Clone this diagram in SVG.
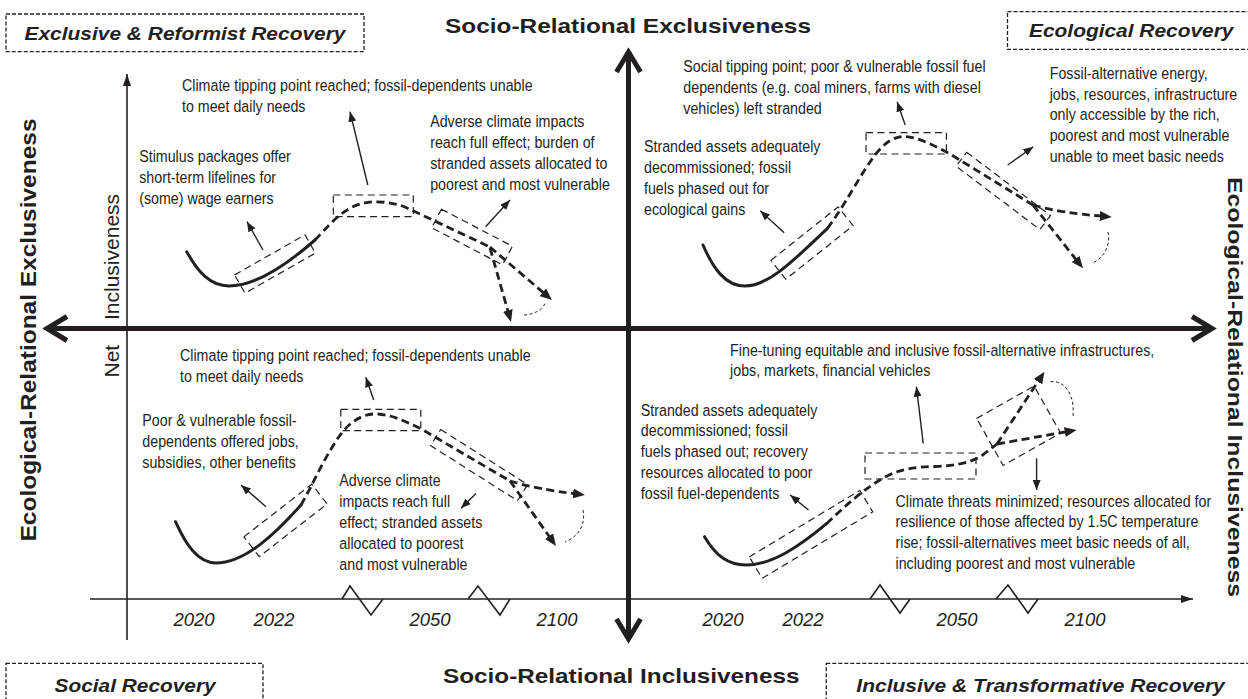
<svg xmlns="http://www.w3.org/2000/svg" width="1248" height="699" viewBox="0 0 1248 699">
<defs>
<style>
.ann{font-family:"Liberation Sans",Arial,sans-serif;font-size:17px;fill:#231f20}
.yr{font-family:"Liberation Sans",Arial,sans-serif;font-size:18.5px;font-style:italic;fill:#231f20;text-anchor:middle}
.ct{font-family:"Liberation Sans",Arial,sans-serif;font-size:18px;font-style:italic;font-weight:bold;fill:#231f20}
.mt{font-family:"Liberation Sans",Arial,sans-serif;font-size:21px;font-weight:bold;fill:#231f20}
.vt{font-family:"Liberation Sans",Arial,sans-serif;font-size:22px;font-weight:bold;fill:#231f20;text-anchor:middle}
.ni{font-family:"Liberation Sans",Arial,sans-serif;font-size:21px;fill:#231f20}
.cb{fill:none;stroke:#231f20;stroke-width:1.3;stroke-dasharray:4 2}
.ax{fill:none;stroke:#231f20;stroke-width:5}
.tl{fill:none;stroke:#231f20;stroke-width:1.6}
.sol{fill:none;stroke:#231f20;stroke-width:3;stroke-linecap:round}
.dsh{fill:none;stroke:#231f20;stroke-width:2.8;stroke-dasharray:8 4.5}
.br{marker-end:url(#ahd)}
.rb{fill:none;stroke:#231f20;stroke-width:1.2;stroke-dasharray:7 4.5}
.arc{fill:none;stroke:#231f20;stroke-width:1;stroke-dasharray:3 2.5}
.ptr{fill:none;stroke:#231f20;stroke-width:1.4;marker-end:url(#ah)}
</style>
<marker id="ah" viewBox="0 0 10 8" refX="10" refY="4" markerWidth="10" markerHeight="8" markerUnits="userSpaceOnUse" orient="auto"><path d="M0,0L10,4L0,8z" fill="#231f20"/></marker>
<marker id="ahd" viewBox="0 0 12 10" refX="6" refY="5" markerWidth="12" markerHeight="10" markerUnits="userSpaceOnUse" orient="auto"><path d="M0,0L12,5L0,10z" fill="#231f20"/></marker>
<marker id="aht" viewBox="0 0 12 8" refX="12" refY="4" markerWidth="12" markerHeight="8" markerUnits="userSpaceOnUse" orient="auto"><path d="M0,0L12,4L0,8z" fill="#231f20"/></marker>
</defs>
<rect width="1248" height="699" fill="#ffffff"/>

<!-- corner titles -->
<g id="title-exclusive-reformist">
<rect class="cb" x="6" y="14" width="358" height="37.7"/>
<text class="ct" x="24.5" y="39.5" textLength="321" lengthAdjust="spacingAndGlyphs">Exclusive &amp; Reformist Recovery</text>
</g>
<g id="title-ecological">
<rect class="cb" x="1007.5" y="11.7" width="250" height="37.6"/>
<text class="ct" x="1029" y="36.5" textLength="204.5" lengthAdjust="spacingAndGlyphs">Ecological Recovery</text>
</g>
<g id="title-social">
<rect class="cb" x="6" y="663.3" width="257" height="50"/>
<text class="ct" x="54.6" y="691.5" textLength="161" lengthAdjust="spacingAndGlyphs">Social Recovery</text>
</g>
<g id="title-inclusive-transformative">
<rect class="cb" x="826.3" y="663.3" width="440" height="50"/>
<text class="ct" x="856.3" y="691.5" textLength="368.5" lengthAdjust="spacingAndGlyphs">Inclusive &amp; Transformative Recovery</text>
</g>

<!-- axis titles -->
<g id="axis-titles">
<text class="mt" x="445" y="33" textLength="366" lengthAdjust="spacingAndGlyphs">Socio-Relational Exclusiveness</text>
<text class="mt" x="443" y="683" textLength="356.5" lengthAdjust="spacingAndGlyphs">Socio-Relational Inclusiveness</text>
<text class="vt" transform="translate(36,330) rotate(-90)" x="0" y="0" textLength="423" lengthAdjust="spacingAndGlyphs">Ecological-Relational Exclusiveness</text>
<text class="vt" transform="translate(1227.5,387) rotate(90)" x="0" y="0" style="font-size:21px" textLength="420" lengthAdjust="spacingAndGlyphs">Ecological-Relational Inclusiveness</text>
<text class="ni" transform="translate(119,320) rotate(-90)">Inclusiveness</text>
<text class="ni" transform="translate(119,377.5) rotate(-90)">Net</text>
</g>

<!-- main axes -->
<g id="main-axes">
<line class="ax" x1="628.5" y1="54" x2="628.5" y2="637"/>
<polyline class="ax" points="616.5,72 628.5,52 640.5,72"/>
<polyline class="ax" points="616.5,619 628.5,639 640.5,619"/>
<line class="ax" x1="48" y1="328.5" x2="1211" y2="328.5"/>
<polyline class="ax" points="67,316.5 47,328.5 67,340.5"/>
<polyline class="ax" points="1192,316.5 1212,328.5 1192,340.5"/>
</g>

<!-- time axes -->
<g id="time-axes">
<line class="tl" x1="127" y1="640" x2="127" y2="74" marker-end="url(#aht)"/>
<line class="tl" x1="90" y1="599" x2="1193" y2="599" marker-end="url(#aht)"/>
<polyline class="tl" points="342,599 350,586 371,615 383,599"/>
<polyline class="tl" points="468,599 478,586 500,615 510,599"/>
<polyline class="tl" points="870,599 880,585 900,613 910,599"/>
<polyline class="tl" points="996,599 1008,585 1028,613 1038,599"/>
<text class="yr" x="194" y="626">2020</text>
<text class="yr" x="274" y="626">2022</text>
<text class="yr" x="430" y="626">2050</text>
<text class="yr" x="557" y="626">2100</text>
<text class="yr" x="723" y="626">2020</text>
<text class="yr" x="803" y="626">2022</text>
<text class="yr" x="957" y="626">2050</text>
<text class="yr" x="1085" y="626">2100</text>
</g>

<!-- panel top-left -->
<g id="panel-exclusive-reformist">
<path class="sol" d="M186.7,251.7 C198,272 210,286 229,286 C258,286 290,262 315,240"/>
<path class="dsh" d="M315,240 C326,229 340,210 360,204 C372,200.5 388,201 405,207 L490,247"/>
<path class="dsh br" d="M490,247 L547.4,296.1"/>
<path class="dsh br" d="M490,248 L509.4,316.2"/>
<path class="arc" d="M524,315 Q540,314 546,302"/>
<rect class="rb" x="-40.5" y="-10.5" width="81" height="21" transform="translate(275,264) rotate(-29.6)"/>
<rect class="rb" x="333.3" y="195" width="80" height="21.7"/>
<rect class="rb" x="-40" y="-10.5" width="80" height="21" transform="translate(472,237) rotate(27.6)"/>
<text class="ann" transform="translate(182,90.7) scale(0.838,1)"><tspan x="0">Climate tipping point reached; fossil-dependents unable</tspan><tspan x="0" dy="20.9">to meet daily needs</tspan></text>
<text class="ann" transform="translate(139.2,162.3) scale(0.838,1)"><tspan x="0">Stimulus packages offer</tspan><tspan x="0" dy="20.9">short-term lifelines for</tspan><tspan x="0" dy="20.9">(some) wage earners</tspan></text>
<text class="ann" transform="translate(430.2,127.4) scale(0.838,1)"><tspan x="0">Adverse climate impacts</tspan><tspan x="0" dy="20.9">reach full effect; burden of</tspan><tspan x="0" dy="20.9">stranded assets allocated to</tspan><tspan x="0" dy="20.9">poorest and most vulnerable</tspan></text>
</g>

<!-- panel top-right -->
<g id="panel-ecological">
<path class="sol" d="M703,245 C713,268 725,286 745,286 C770,286 798,256 827.5,228.3"/>
<path class="dsh" d="M827.5,228.3 C845,205 860,175 875,155 C885,142 895,136 905,136.5 C918,137 935,146 950,154 L1033,205"/>
<path class="dsh br" d="M1033,205 L1079.3,263.6"/>
<path class="dsh br" d="M1033,205 Q1060,213 1105.8,216.5"/>
<path class="arc" d="M1108,232 C1111,245 1104,258 1092,263.5"/>
<rect class="rb" x="-43" y="-12" width="86" height="24" transform="translate(812,243) rotate(-38.5)"/>
<rect class="rb" x="866" y="132.7" width="80.4" height="21.3"/>
<rect class="rb" x="-52.5" y="-8.75" width="105" height="17.5" transform="translate(1003.3,190.9) rotate(37.1)"/>
<text class="ann" transform="translate(683.3,72.4) scale(0.838,1)"><tspan x="0">Social tipping point; poor &amp; vulnerable fossil fuel</tspan><tspan x="0" dy="20.9">dependents (e.g. coal miners, farms with diesel</tspan><tspan x="0" dy="20.9">vehicles) left stranded</tspan></text>
<text class="ann" transform="translate(644,152.4) scale(0.838,1)"><tspan x="0">Stranded assets adequately</tspan><tspan x="0" dy="20.9">decommissioned; fossil</tspan><tspan x="0" dy="20.9">fuels phased out for</tspan><tspan x="0" dy="20.9">ecological gains</tspan></text>
<text class="ann" transform="translate(1049.7,78.8) scale(0.838,1)"><tspan x="0">Fossil-alternative energy,</tspan><tspan x="0" dy="20.8">jobs, resources, infrastructure</tspan><tspan x="0" dy="20.8">only accessible by the rich,</tspan><tspan x="0" dy="20.8">poorest and most vulnerable</tspan><tspan x="0" dy="20.8">unable to meet basic needs</tspan></text>
</g>

<!-- panel bottom-left -->
<g id="panel-social">
<path class="sol" d="M175.5,521.7 C186,545 198,563 216,563 C245,563 275,534 301,505"/>
<path class="dsh" d="M301,505 C312,486 322,462 338,438 C350,420 365,413 378,414 C392,415 405,421 423,430 L510,481"/>
<path class="dsh br" d="M510,481 Q535,489 579,494.2"/>
<path class="dsh br" d="M510,481 L552.5,541.1"/>
<path class="arc" d="M583,510 C586,525 578,537 565,542"/>
<rect class="rb" x="-43" y="-12.5" width="86" height="25" transform="translate(285.5,520.4) rotate(-37.8)"/>
<rect class="rb" x="340.8" y="409.3" width="80" height="21.4"/>
<rect class="rb" x="-51.5" y="-9.5" width="103" height="19" transform="translate(479.1,465.1) rotate(32.4)"/>
<text class="ann" transform="translate(180,360.7) scale(0.838,1)"><tspan x="0">Climate tipping point reached; fossil-dependents unable</tspan><tspan x="0" dy="21.3">to meet daily needs</tspan></text>
<text class="ann" transform="translate(142.3,425.7) scale(0.838,1)"><tspan x="0">Poor &amp; vulnerable fossil-</tspan><tspan x="0" dy="21.2">dependents offered jobs,</tspan><tspan x="0" dy="21.2">subsidies, other benefits</tspan></text>
<text class="ann" transform="translate(339.3,485.7) scale(0.838,1)"><tspan x="0">Adverse climate</tspan><tspan x="0" dy="21">impacts reach full</tspan><tspan x="0" dy="21">effect; stranded assets</tspan><tspan x="0" dy="21">allocated to poorest</tspan><tspan x="0" dy="21">and most vulnerable</tspan></text>
</g>

<!-- panel bottom-right -->
<g id="panel-inclusive-transformative">
<path class="sol" d="M704.5,536.7 C716,556 728,565 746,565 C772,565 800,546 826.5,523.7"/>
<path class="dsh" d="M826.5,523.7 C845,506 865,488 885,477 C900,469 915,467 935,466.5 C955,466 968,463 980,457 L997,444"/>
<path class="dsh br" d="M997,444 L1070.7,431"/>
<path class="dsh br" d="M997,444 L1041.2,376.7"/>
<path class="arc" d="M1050.5,381.7 C1065,380 1075,395 1073,416.7"/>
<rect class="rb" x="-64.5" y="-12.5" width="129" height="25" transform="translate(811,534.4) rotate(-31)"/>
<rect class="rb" x="865" y="453" width="111" height="26"/>
<rect class="rb" x="-33" y="-27" width="66" height="54" transform="translate(1018.6,425.7) rotate(-29.4)"/>
<text class="ann" transform="translate(730.1,355.7) scale(0.838,1)"><tspan x="0">Fine-tuning equitable and inclusive fossil-alternative infrastructures,</tspan><tspan x="0" dy="20.5">jobs, markets, financial vehicles</tspan></text>
<text class="ann" transform="translate(640.8,415.7) scale(0.838,1)"><tspan x="0">Stranded assets adequately</tspan><tspan x="0" dy="20.8">decommissioned; fossil</tspan><tspan x="0" dy="20.8">fuels phased out; recovery</tspan><tspan x="0" dy="20.8">resources allocated to poor</tspan><tspan x="0" dy="20.8">fossil fuel-dependents</tspan></text>
<text class="ann" transform="translate(895.5,506.7) scale(0.838,1)"><tspan x="0">Climate threats minimized; resources allocated for</tspan><tspan x="0" dy="20.7">resilience of those affected by 1.5C temperature</tspan><tspan x="0" dy="20.7">rise; fossil-alternatives meet basic needs of all,</tspan><tspan x="0" dy="20.7">including poorest and most vulnerable</tspan></text>
</g>

<!-- connectors: annotation pointers -->
<g id="connectors">
<line class="ptr" x1="367.8" y1="185" x2="350" y2="111.7"/>
<line class="ptr" x1="263" y1="250" x2="247" y2="221.7"/>
<line class="ptr" x1="485.6" y1="226.7" x2="510" y2="200"/>
<line class="ptr" x1="905.2" y1="125" x2="897.1" y2="101.7"/>
<line class="ptr" x1="784.2" y1="232.7" x2="760.2" y2="210.7"/>
<line class="ptr" x1="1007.7" y1="165" x2="1033.3" y2="146.7"/>
<line class="ptr" x1="373.7" y1="400" x2="365.8" y2="377.3"/>
<line class="ptr" x1="266" y1="506.7" x2="241" y2="485"/>
<line class="ptr" x1="476" y1="493.5" x2="461" y2="508.3"/>
<line class="ptr" x1="923.2" y1="443.3" x2="916.4" y2="386.7"/>
<line class="ptr" x1="808.5" y1="510" x2="790.2" y2="495"/>
<line class="ptr" x1="1036.6" y1="458.3" x2="1036.6" y2="490"/>
</g>
</svg>
